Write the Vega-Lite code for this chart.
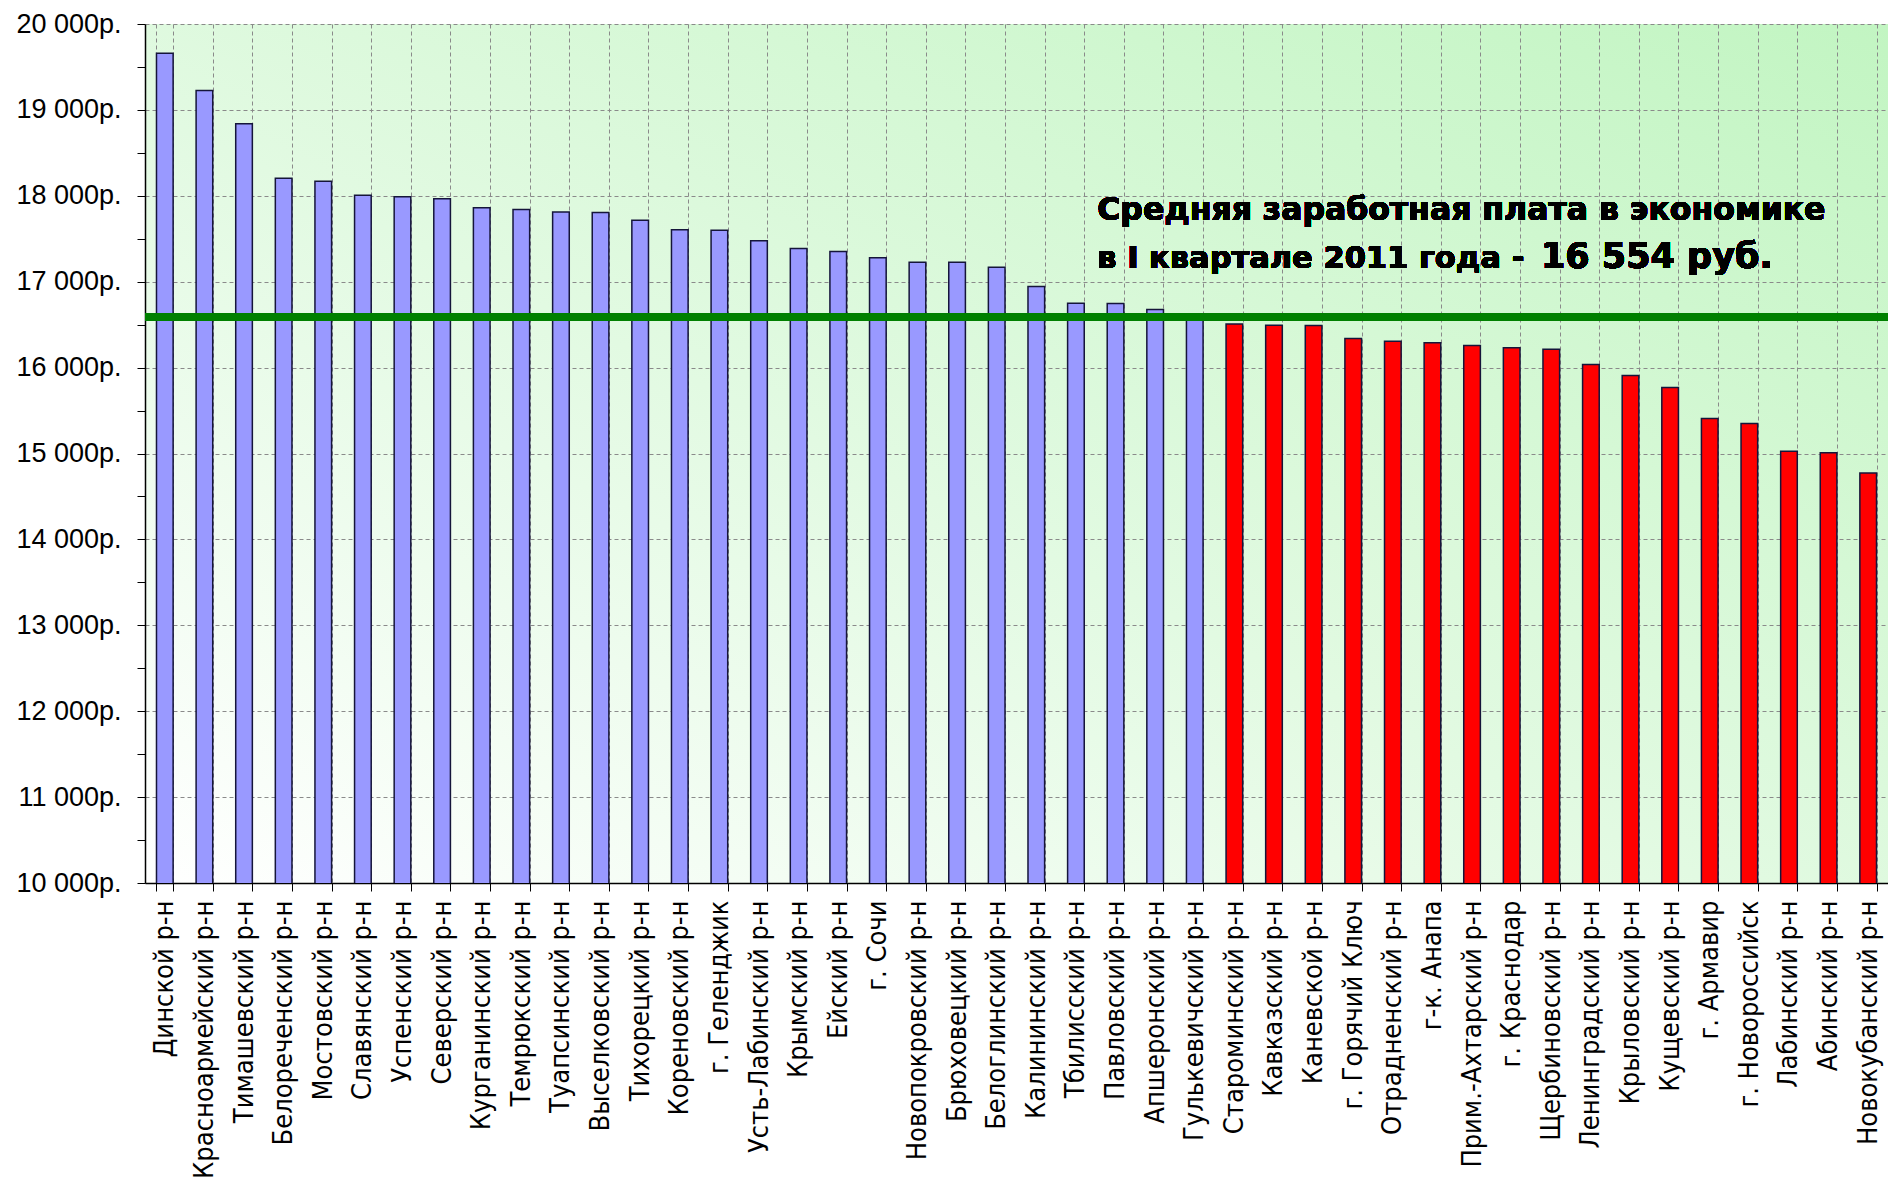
{
  "$schema": "https://vega.github.io/schema/vega-lite/v6.json",
  "width": 1743,
  "height": 859,
  "autosize": {"type": "none"},
  "padding": {"left": 145, "top": 24, "right": 0, "bottom": 301},
  "background": "white",
  "view": {
    "stroke": null,
    "fill": {
      "gradient": "linear", "x1": 0, "y1": 1, "x2": 1, "y2": 0,
      "stops": [
        {"offset": 0, "color": "#ffffff"},
        {"offset": 0.45, "color": "#e2fae2"},
        {"offset": 1, "color": "#c2f5c2"}
      ]
    }
  },
  "data": {
    "values": [
      {"name": "Динской р-н", "value": 19660, "group": "выше"},
      {"name": "Красноармейский р-н", "value": 19225, "group": "выше"},
      {"name": "Тимашевский р-н", "value": 18840, "group": "выше"},
      {"name": "Белореченский р-н", "value": 18205, "group": "выше"},
      {"name": "Мостовский р-н", "value": 18170, "group": "выше"},
      {"name": "Славянский р-н", "value": 18005, "group": "выше"},
      {"name": "Успенский р-н", "value": 17990, "group": "выше"},
      {"name": "Северский р-н", "value": 17965, "group": "выше"},
      {"name": "Курганинский р-н", "value": 17860, "group": "выше"},
      {"name": "Темрюкский р-н", "value": 17840, "group": "выше"},
      {"name": "Туапсинский р-н", "value": 17810, "group": "выше"},
      {"name": "Выселковский р-н", "value": 17805, "group": "выше"},
      {"name": "Тихорецкий р-н", "value": 17715, "group": "выше"},
      {"name": "Кореновский р-н", "value": 17605, "group": "выше"},
      {"name": "г. Геленджик", "value": 17600, "group": "выше"},
      {"name": "Усть-Лабинский р-н", "value": 17476, "group": "выше"},
      {"name": "Крымский р-н", "value": 17386, "group": "выше"},
      {"name": "Ейский р-н", "value": 17351, "group": "выше"},
      {"name": "г. Сочи", "value": 17278, "group": "выше"},
      {"name": "Новопокровский р-н", "value": 17227, "group": "выше"},
      {"name": "Брюховецкий р-н", "value": 17225, "group": "выше"},
      {"name": "Белоглинский р-н", "value": 17169, "group": "выше"},
      {"name": "Калининский р-н", "value": 16945, "group": "выше"},
      {"name": "Тбилисский р-н", "value": 16748, "group": "выше"},
      {"name": "Павловский р-н", "value": 16746, "group": "выше"},
      {"name": "Апшеронский р-н", "value": 16675, "group": "выше"},
      {"name": "Гулькевичский р-н", "value": 16600, "group": "выше"},
      {"name": "Староминский р-н", "value": 16508, "group": "ниже"},
      {"name": "Кавказский р-н", "value": 16492, "group": "ниже"},
      {"name": "Каневской р-н", "value": 16490, "group": "ниже"},
      {"name": "г. Горячий Ключ", "value": 16338, "group": "ниже"},
      {"name": "Отрадненский р-н", "value": 16307, "group": "ниже"},
      {"name": "г-к. Анапа", "value": 16288, "group": "ниже"},
      {"name": "Прим.-Ахтарский р-н", "value": 16257, "group": "ниже"},
      {"name": "г. Краснодар", "value": 16230, "group": "ниже"},
      {"name": "Щербиновский р-н", "value": 16214, "group": "ниже"},
      {"name": "Ленинградский р-н", "value": 16037, "group": "ниже"},
      {"name": "Крыловский р-н", "value": 15909, "group": "ниже"},
      {"name": "Кущевский р-н", "value": 15767, "group": "ниже"},
      {"name": "г. Армавир", "value": 15407, "group": "ниже"},
      {"name": "г. Новороссийск", "value": 15349, "group": "ниже"},
      {"name": "Лабинский р-н", "value": 15025, "group": "ниже"},
      {"name": "Абинский р-н", "value": 15009, "group": "ниже"},
      {"name": "Новокубанский р-н", "value": 14773, "group": "ниже"}
    ]
  },
  "layer": [
    {
      "mark": {"type": "bar", "stroke": "#15153a", "strokeWidth": 1.5, "clip": true},
      "encoding": {
        "x": {
          "field": "name",
          "type": "nominal",
          "sort": null,
          "scale": {"paddingInner": 0.58, "paddingOuter": 0.29},
          "axis": {
            "title": null,
            "labelAngle": -90,
            "labelFont": "Liberation Sans Narrow, DejaVu Sans Condensed, Liberation Sans",
            "labelFontSize": 27,
            "labelColor": "black",
            "labelLimit": 400,
            "labelPadding": 9,
            "tickBand": "extent",
            "tickSize": 8,
            "tickColor": "black",
            "domainColor": "black",
            "domainWidth": 1.5,
            "grid": true,
            "gridColor": "#8a8a8a",
            "gridDash": [4, 3],
            "gridWidth": 1
          }
        },
        "y": {
          "field": "value",
          "type": "quantitative",
          "scale": {"domain": [10000, 20000], "nice": false, "zero": false},
          "axis": {
            "title": null,
            "values": [10000, 10250, 10500, 10750, 11000, 11250, 11500, 11750, 12000, 12250, 12500, 12750, 13000, 13250, 13500, 13750, 14000, 14250, 14500, 14750, 15000, 15250, 15500, 15750, 16000, 16250, 16500, 16750, 17000, 17250, 17500, 17750, 18000, 18250, 18500, 18750, 19000, 19250, 19500, 19750, 20000],
            "labelExpr": "datum.value % 1000 === 0 ? replace(format(datum.value, ','), ',', ' ') + 'р.' : ''",
            "labelFont": "Liberation Sans",
            "labelFontSize": 27,
            "labelColor": "black",
            "labelPadding": 16,
            "labelOverlap": false,
            "tickSize": 8,
            "tickColor": "black",
            "domainColor": "black",
            "domainWidth": 1.5,
            "grid": true,
            "gridColor": "#8a8a8a",
            "gridDash": [4, 3],
            "gridWidth": 1,
            "gridOpacity": {"condition": {"test": "datum.value % 1000 === 0", "value": 1}, "value": 0}
          }
        },
        "color": {
          "field": "group",
          "type": "nominal",
          "scale": {"domain": ["выше", "ниже"], "range": ["#9999ff", "#ff0000"]},
          "legend": null
        }
      }
    },
    {
      "mark": {"type": "rule", "color": "#008000", "strokeWidth": 7},
      "encoding": {"y": {"datum": 16590}}
    },
    {
      "mark": {"type": "text", "text": "Средняя заработная плата в экономике", "font": "DejaVu Sans", "fontWeight": "bold", "fontSize": 31.5, "align": "left", "baseline": "alphabetic", "color": "black", "dx": -10},
      "encoding": {
        "x": {"datum": "Павловский р-н", "bandPosition": 0},
        "y": {"datum": 17718}
      }
    },
    {
      "mark": {"type": "text", "text": "в I квартале 2011 года - ", "font": "DejaVu Sans", "fontWeight": "bold", "fontSize": 30.5, "align": "left", "baseline": "alphabetic", "color": "black", "dx": -10},
      "encoding": {
        "x": {"datum": "Павловский р-н", "bandPosition": 0},
        "y": {"datum": 17160}
      }
    },
    {
      "mark": {"type": "text", "text": "16 554 руб.", "font": "DejaVu Sans", "fontWeight": "bold", "fontSize": 35, "align": "left", "baseline": "alphabetic", "color": "black", "dx": -2},
      "encoding": {
        "x": {"datum": "Щербиновский р-н", "bandPosition": 0},
        "y": {"datum": 17160}
      }
    }
  ]
}
